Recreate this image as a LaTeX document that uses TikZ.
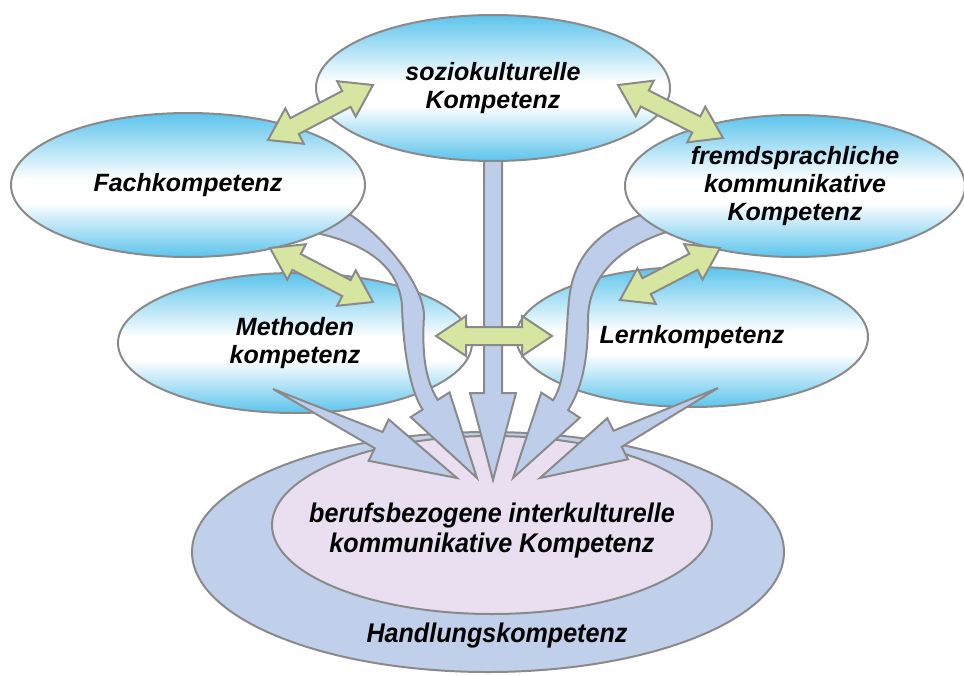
\documentclass[tikz,border=0pt]{standalone}
\usepackage{fontspec}
\usepackage{graphicx}
\setmainfont{Liberation Sans}
\usetikzlibrary{shapes.geometric,calc}

\definecolor{sky}{RGB}{92,196,236}
\definecolor{edgegray}{RGB}{138,138,138}
\definecolor{leaf}{RGB}{214,229,160}
\definecolor{bandblue}{RGB}{190,206,234}
\definecolor{ringblue}{RGB}{192,207,234}
\definecolor{lilac}{RGB}{233,223,240}

% blue at top and bottom, white band slightly below the middle
\pgfdeclareverticalshading{skyoval}{100bp}{color(0bp)=(sky); color(25bp)=(sky);
  color(44bp)=(white); color(52bp)=(white); color(75bp)=(sky); color(100bp)=(sky)}

\newcommand\kompfont{\fontsize{25}{28}\selectfont\bfseries\itshape}
\newcommand\narrowfont{\fontsize{27}{30}\selectfont\bfseries\itshape}

\tikzset{
  oval/.style={ellipse, draw=edgegray, line width=2pt, shade, shading=skyoval,
    inner sep=0pt, align=center, font=\kompfont},
  ring/.style={ellipse, draw=edgegray, line width=2pt, fill=ringblue, inner sep=0pt},
  core/.style={ellipse, draw=edgegray, line width=2pt, fill=lilac, inner sep=0pt},
  narrowlabel/.style={inner sep=0pt, font=\narrowfont},
  greenarrow/.style={fill=leaf, draw=edgegray, line width=2pt, line join=miter},
  bandarrow/.style={fill=bandblue, draw=edgegray, line width=2pt, line join=miter},
}

% arrow head points: #1 name, #2 tip, #3 a point back along the axis
\newcommand\headat[3]{%
  \coordinate (#1-b) at ($(#2)!87pt!(#3)$);
  \coordinate (#1-sr) at ($(#1-b)!9pt!90:(#2)$);
  \coordinate (#1-sl) at ($(#1-b)!9pt!-90:(#2)$);
  \coordinate (#1-br) at ($(#1-b)!23pt!90:(#2)$);
  \coordinate (#1-bl) at ($(#1-b)!23pt!-90:(#2)$);
}

% double-headed block arrow between two coordinates
\newcommand\twoway[2]{%
  \draw[greenarrow] (#1)
    -- ($(#1)!30pt!(#2)!20pt!90:(#2)$)
    -- ($(#1)!30pt!(#2)!9pt!90:(#2)$)
    -- ($(#2)!30pt!(#1)!9pt!-90:(#1)$)
    -- ($(#2)!30pt!(#1)!20pt!-90:(#1)$)
    -- (#2)
    -- ($(#2)!30pt!(#1)!20pt!90:(#1)$)
    -- ($(#2)!30pt!(#1)!9pt!90:(#1)$)
    -- ($(#1)!30pt!(#2)!9pt!-90:(#2)$)
    -- ($(#1)!30pt!(#2)!20pt!-90:(#2)$)
    -- cycle;
}

\begin{document}
\begin{tikzpicture}[x=1pt,y=-1pt]
\useasboundingbox (0,0) rectangle (964,675);

% action competence ring with the core competence inside
\node[ring, minimum width=592pt, minimum height=240pt] (handlung) at (488,552) {};
\node[core, minimum width=440pt, minimum height=178pt] (kern) at (492,525) {};
\node[narrowlabel] (kern-text) at (492,531)
  {\scalebox{0.93}[1]{\begin{tabular}{@{}c@{}}berufsbezogene interkulturelle\\kommunikative Kompetenz\end{tabular}}};
\node[narrowlabel] (handlung-text) at (497,636) {\scalebox{0.93}[1]{Handlungskompetenz}};

% lower competence ovals
\node[oval, minimum width=354pt, minimum height=140pt] (methoden) at (295,343) {Methoden\\kompetenz};
\node[oval, minimum width=352pt, minimum height=140pt] (lern) at (692,337) {Lernkompetenz};

% straight arrow from the sociocultural oval
\coordinate (t3) at (493,480);
\coordinate (s3) at (493,150);
\headat{h3}{t3}{s3}
\draw[bandarrow] ($(s3)+(-9,0)$) -- (h3-sl) -- (h3-bl) -- (t3) -- (h3-br) -- (h3-sr)
  -- ($(s3)+(9,0)$) -- cycle;

% curved band from the subject-matter oval
\coordinate (t2) at (477,478);
\coordinate (m2) at (430,404.5);
\headat{h2}{t2}{m2}
\draw[bandarrow] (312,232) .. controls (360,242) and (398,262) .. (402,305)
  .. controls (403,345) and (408.8,388.2) .. (h2-sl) -- (h2-bl) -- (t2) -- (h2-br) -- (h2-sr)
  .. controls (424.2,378.6) and (422,350) .. (424,315)
  .. controls (423,285) and (385,235) .. (340,208) -- cycle;

% curved band from the foreign-language oval
\coordinate (t4) at (513,478);
\coordinate (m4) at (561,404.5);
\headat{h4}{t4}{m4}
\draw[bandarrow] (655,210) .. controls (605,226) and (574,250) .. (569,300)
  .. controls (565,340) and (567,379) .. (h4-sl) -- (h4-bl) -- (t4) -- (h4-br) -- (h4-sr)
  .. controls (582,388) and (588,360) .. (588,320)
  .. controls (588,280) and (615,245) .. (680,228) -- cycle;

% tapering arrows from the method and learning ovals
\coordinate (w1) at (273,389);
\coordinate (t1) at (457,478);
\headat{h1}{t1}{w1}
\draw[bandarrow] (w1) -- (h1-sr) -- (h1-br) -- (t1) -- (h1-bl) -- (h1-sl) -- cycle;

\coordinate (w5) at (718,388);
\coordinate (t5) at (540,478);
\headat{h5}{t5}{w5}
\draw[bandarrow] (w5) -- (h5-sr) -- (h5-br) -- (t5) -- (h5-bl) -- (h5-sl) -- cycle;

% upper competence ovals
\node[oval, minimum width=354pt, minimum height=144pt] (fach) at (188,185) {Fachkompetenz};
\node[oval, minimum width=354pt, minimum height=146pt] (sozio) at (493,88) {soziokulturelle\\Kompetenz};
\node[oval, minimum width=340pt, minimum height=142pt] (fremd) at (795,186)
  {fremdsprachliche\\kommunikative\\Kompetenz};

% mutual links between the ovals
\coordinate (g1a) at (268,140);  \coordinate (g1b) at (373,85);
\coordinate (g2a) at (270,248);  \coordinate (g2b) at (373,302);
\coordinate (g3a) at (618,85);   \coordinate (g3b) at (723,138);
\coordinate (g4a) at (620,300);  \coordinate (g4b) at (720,248);
\coordinate (g5a) at (436,336);  \coordinate (g5b) at (552,336);
\twoway{g1a}{g1b}
\twoway{g2a}{g2b}
\twoway{g3a}{g3b}
\twoway{g4a}{g4b}
\twoway{g5a}{g5b}
\end{tikzpicture}
\end{document}
